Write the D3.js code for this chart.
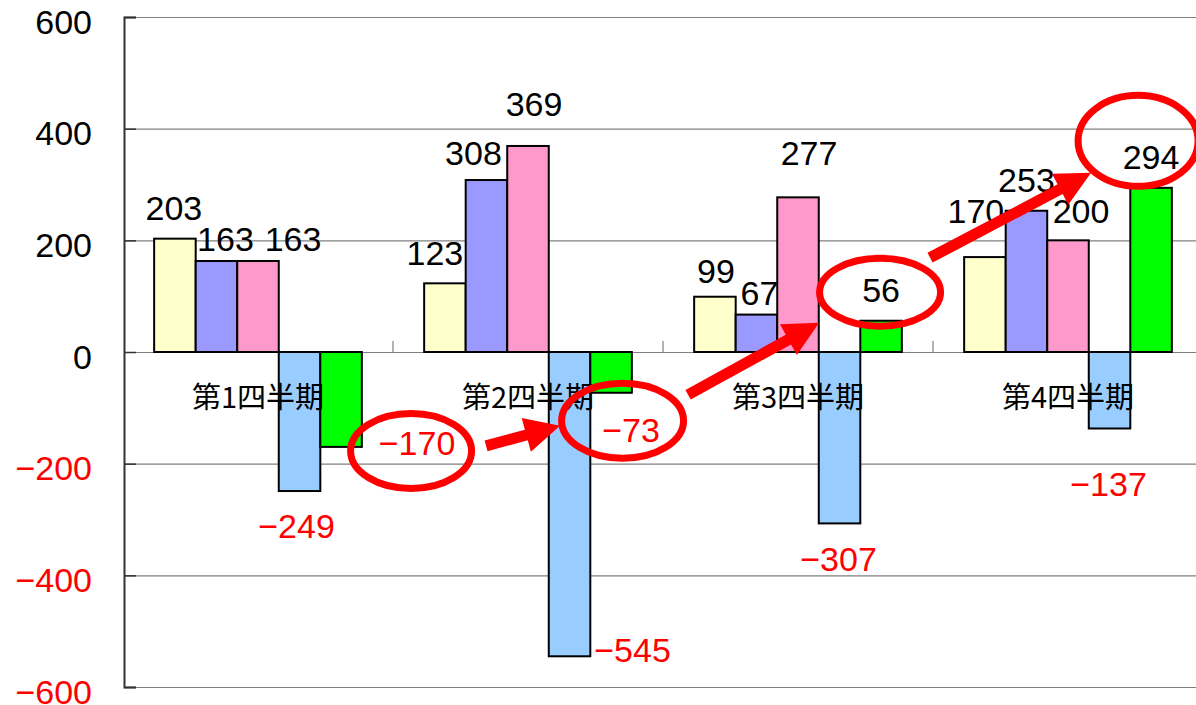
<!DOCTYPE html>
<html>
<head>
<meta charset="utf-8">
<script src="https://cdn.jsdelivr.net/npm/d3@7"></script>
<style>
  html, body { margin: 0; padding: 0; background: #fff; }
  svg { display: block; }
</style>
</head>
<body>
<div id="graph1"></div>
<script>
/* data */
var categories = ["第1四半期", "第2四半期", "第3四半期", "第4四半期"];
var series1 = [203, 123, 99, 170];     // yellow
var series2 = [163, 308, 67, 253];     // lavender
var series3 = [163, 369, 277, 200];    // pink
var series4 = [-249, -545, -307, -137];// light blue
var series5 = [-170, -73, 56, 294];    // green
var yTicks = [-600, -400, -200, 0, 200, 400, 600];

var allSeries = [series1, series2, series3, series4, series5];
var barColors = ["#FFFFCC", "#9999FF", "#FF99CC", "#99CCFF", "#00FF00"];

// hand moved labels (dx, dy in px from the default spot)
var labelNudge = [
  [[-1, 0], [-10, 1], [1, 5], [-9, -15]],
  [[9, 9], [-13, 4], [3, 9], [0, 0]],
  [[35, 9], [6, -11], [11, -13], [13, 2]],
  [[-3, -1], [63, -42], [-1, 0], [-1, 20]],
  [[76, -40], [20, 1], [0, 0], [0, 0]]
];
// red rings round the green labels: offset from label centre, radii
var rings = [
  {dx: -6, dy: 8, rx: 60.5, ry: 37.5},
  {dx: -8.5, dy: -9, rx: 61, ry: 37.5},
  {dx: -1, dy: 2.5, rx: 60.5, ry: 34},
  {dx: -13, dy: -16, rx: 60, ry: 45.5}
];
// arrows from ring to ring (offsets from ring centres)
var arrows = [
  {from: 0, to: 1, x1: 75, y1: -5, x2: -62.5, y2: 5},
  {from: 1, to: 2, x1: 65.5, y1: -26, x2: -61, y2: 30.5},
  {from: 2, to: 3, x1: 50, y1: -34.5, x2: -47, y2: 32}
];

var W = 1196, H = 705;
var plotLeft = 124, plotRight = 1203, plotTop = 17, plotBottom = 687;

var svg = d3.select("#graph1").append("svg")
  .attr("width", W)
  .attr("height", H);

var x0 = d3.scaleBand()
  .domain(categories)
  .range([plotLeft - 1, plotRight])
  .padding(0);

var x1 = d3.scaleBand()
  .domain(d3.range(allSeries.length))
  .range([0, x0.bandwidth()])
  .paddingInner(0)
  .paddingOuter(0.75);

var y = d3.scaleLinear()
  .domain([-600, 600])
  .range([plotBottom, plotTop]);

function fmt(v) {
  return v < 0 ? "\u2212" + Math.abs(v) : String(v);
}

/* gridlines */
svg.append("g").selectAll("line")
  .data(yTicks)
  .join("line")
  .attr("x1", plotLeft).attr("x2", W)
  .attr("y1", function(d) { return y(d) + 0.5; })
  .attr("y2", function(d) { return y(d) + 0.5; })
  .attr("stroke", "#808080")
  .attr("stroke-width", 1.2);

// small category ticks sitting on the zero line
svg.append("g").selectAll("line")
  .data(categories.slice(1))
  .join("line")
  .attr("x1", function(d) { return x0(d); })
  .attr("x2", function(d) { return x0(d); })
  .attr("y1", y(0))
  .attr("y2", y(0) - 11)
  .attr("stroke", "#808080")
  .attr("stroke-width", 1.2);

/* bars */
var groups = svg.append("g").selectAll("g")
  .data(allSeries)
  .join("g")
  .attr("fill", function(d, i) { return barColors[i]; });

groups.selectAll("rect")
  .data(function(s, si) { return s.map(function(v, ci) { return {s: si, c: ci, v: v}; }); })
  .join("rect")
  .attr("x", function(d) { return x0(categories[d.c]) + x1(d.s); })
  .attr("width", x1.bandwidth())
  .attr("y", function(d) { return y(Math.max(0, d.v)); })
  .attr("height", function(d) { return Math.abs(y(d.v) - y(0)); })
  .attr("stroke", "#000")
  .attr("stroke-width", 2);

/* y axis */
var yAxis = svg.append("g")
  .attr("transform", "translate(" + plotLeft + ",0)")
  .call(d3.axisRight(y).tickValues(yTicks).tickSize(12).tickFormat(""));
yAxis.select(".domain").attr("stroke", "#333").attr("stroke-width", 2);
yAxis.selectAll(".tick line").attr("stroke", "#333").attr("stroke-width", 1.5);

svg.append("g").selectAll("text")
  .data(yTicks)
  .join("text")
  .attr("x", 92)
  .attr("y", function(d) { return y(d) + 16.5; })
  .attr("text-anchor", "end")
  .attr("font-family", "'Liberation Sans', Arial, sans-serif")
  .attr("font-size", 34)
  .attr("fill", function(d) { return d < 0 ? "#FF0000" : "#000"; })
  .text(fmt);

/* category labels */
svg.append("g").selectAll("text")
  .data(categories)
  .join("text")
  .attr("x", function(d) { return x0(d) + x0.bandwidth() / 2; })
  .attr("y", 408)
  .attr("text-anchor", "middle")
  .attr("font-family", "'Noto Sans CJK JP', sans-serif")
  .attr("font-size", 29)
  .attr("fill", "#000")
  .text(function(d) { return d; });

/* data labels */
var labelPos = [];
allSeries.forEach(function(s, si) {
  labelPos[si] = s.map(function(v, ci) {
    var cx = x0(categories[ci]) + x1(si) + x1.bandwidth() / 2;
    var by = v >= 0 ? y(v) - 19 : y(v) + 48;
    return {x: cx + labelNudge[si][ci][0], y: by + labelNudge[si][ci][1], v: v};
  });
});

svg.append("g").selectAll("text")
  .data(d3.merge(labelPos))
  .join("text")
  .attr("x", function(d) { return d.x; })
  .attr("y", function(d) { return d.y; })
  .attr("text-anchor", "middle")
  .attr("font-family", "'Liberation Sans', Arial, sans-serif")
  .attr("font-size", 34)
  .attr("fill", function(d) { return d.v < 0 ? "#FF0000" : "#000"; })
  .text(function(d) { return fmt(d.v); });

/* red annotation: rings round the green labels and arrows between them */
var ringPos = labelPos[4].map(function(p, i) {
  return {cx: p.x + rings[i].dx, cy: p.y - 12 + rings[i].dy, rx: rings[i].rx, ry: rings[i].ry};
});

svg.append("g").selectAll("ellipse")
  .data(ringPos)
  .join("ellipse")
  .attr("cx", function(d) { return d.cx; })
  .attr("cy", function(d) { return d.cy; })
  .attr("rx", function(d) { return d.rx; })
  .attr("ry", function(d) { return d.ry; })
  .attr("fill", "none")
  .attr("stroke", "#FF0000")
  .attr("stroke-width", 7);

function arrowPath(ax, ay, bx, by) {
  var len = Math.hypot(bx - ax, by - ay),
      ux = (bx - ax) / len, uy = (by - ay) / len,
      nx = -uy, ny = ux,
      hl = 35, hw = 17.5, sw = 5.5;
  var hx = bx - ux * hl, hy = by - uy * hl;
  var pts = [
    [ax + nx * sw, ay + ny * sw],
    [hx + nx * sw, hy + ny * sw],
    [hx + nx * hw, hy + ny * hw],
    [bx, by],
    [hx - nx * hw, hy - ny * hw],
    [hx - nx * sw, hy - ny * sw],
    [ax - nx * sw, ay - ny * sw]
  ];
  return "M" + pts.map(function(p) { return p[0] + "," + p[1]; }).join("L") + "Z";
}

svg.append("g").selectAll("path")
  .data(arrows)
  .join("path")
  .attr("d", function(a) {
    var r1 = ringPos[a.from], r2 = ringPos[a.to];
    return arrowPath(r1.cx + a.x1, r1.cy + a.y1, r2.cx + a.x2, r2.cy + a.y2);
  })
  .attr("fill", "#FF0000");
</script>
</body>
</html>
